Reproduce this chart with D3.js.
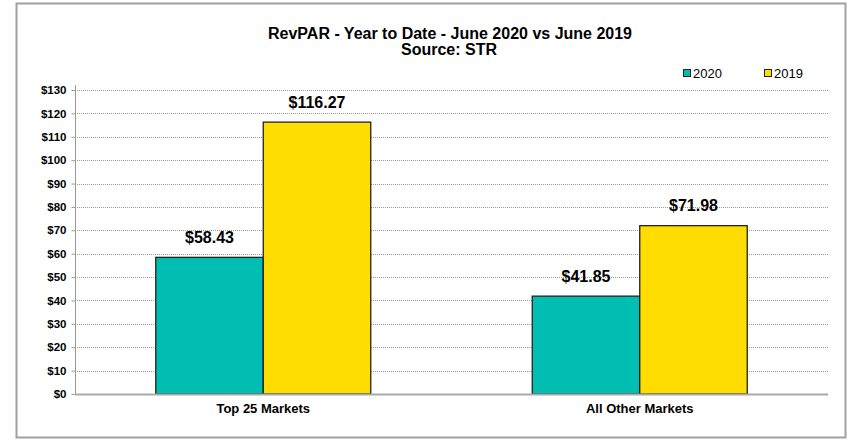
<!DOCTYPE html>
<html>
<head>
<meta charset="utf-8">
<script src="https://cdn.jsdelivr.net/npm/d3@7"></script>
<style>
  body { margin: 0; background: #fff; }
  svg { font-family: Arial, "Liberation Sans", sans-serif; }
</style>
</head>
<body>
<div id="chart"></div>
<script>
const markets = ['Top 25 Markets', 'All Other Markets'];
const years = ['2020', '2019'];
const revpar2020 = [58.43, 41.85];
const revpar2019 = [116.27, 71.98];
const yTicks = [0, 10, 20, 30, 40, 50, 60, 70, 80, 90, 100, 110, 120, 130];
const colors = ['#00BFB2', '#FFDD00'];

var width = 854, height = 440;
var plot = {left: 75, right: 828, top: 90, bottom: 394};

var svg = d3.select('#chart').append('svg')
  .attr('width', width)
  .attr('height', height);

// outer frame
svg.append('rect')
  .attr('x', 16.5).attr('y', 3.5)
  .attr('width', 829).attr('height', 434)
  .attr('fill', '#fff')
  .attr('stroke', '#a0a0a0')
  .attr('stroke-width', 2);

var x = d3.scaleBand()
  .domain(markets)
  .range([plot.left, plot.right])
  .paddingInner(0.429)
  .paddingOuter(0.2145);

var x1 = d3.scaleBand()
  .domain(years)
  .range([0, x.bandwidth()]);

var y = d3.scaleLinear()
  .domain([0, 130])
  .range([plot.bottom, plot.top]);

// gridlines
svg.append('g')
  .selectAll('line')
  .data(yTicks.filter(d => d > 0))
  .enter().append('line')
    .attr('x1', plot.left).attr('x2', plot.right)
    .attr('y1', d => Math.round(y(d)) + 0.5)
    .attr('y2', d => Math.round(y(d)) + 0.5)
    .attr('stroke', '#9a9a9a')
    .attr('stroke-dasharray', '1,1');

// y axis
var yAxis = svg.append('g')
  .attr('transform', 'translate(' + (plot.left + 0.5) + ',0)')
  .call(d3.axisLeft(y).tickValues(yTicks).tickSize(4).tickPadding(5).tickFormat(d => '$' + d));
yAxis.select('.domain').attr('stroke', '#999').attr('d', 'M0,' + (plot.top - 5) + 'V' + plot.bottom);
yAxis.selectAll('.tick line').attr('stroke', '#999');
yAxis.selectAll('.tick text')
  .attr('fill', '#000')
  .style('font-size', '11.5px')
  .style('font-weight', 'bold')
  .style('font-family', 'Arial, "Liberation Sans", sans-serif');

// bars
var data = [];
markets.forEach((m, i) => {
  data.push({market: m, year: '2020', value: revpar2020[i], color: colors[0]});
  data.push({market: m, year: '2019', value: revpar2019[i], color: colors[1]});
});

svg.append('g')
  .selectAll('rect')
  .data(data)
  .enter().append('rect')
    .attr('x', d => x(d.market) + x1(d.year))
    .attr('y', d => y(d.value))
    .attr('width', x1.bandwidth())
    .attr('height', d => plot.bottom - y(d.value))
    .attr('fill', d => d.color)
    .attr('stroke', '#222')
    .attr('stroke-width', 1.3);

// x axis baseline
svg.append('line')
  .attr('x1', plot.left).attr('x2', plot.right)
  .attr('y1', plot.bottom + 0.5).attr('y2', plot.bottom + 0.5)
  .attr('stroke', '#aaa')
  .attr('stroke-width', 2);

// value labels
svg.append('g')
  .selectAll('text')
  .data(data)
  .enter().append('text')
    .attr('x', d => x(d.market) + x1(d.year) + x1.bandwidth() / 2)
    .attr('y', d => y(d.value) - 14.5)
    .attr('text-anchor', 'middle')
    .style('font-size', '16px')
    .style('font-weight', 'bold')
    .text(d => '$' + d.value.toFixed(2));

// category labels
svg.append('g')
  .selectAll('text')
  .data(markets)
  .enter().append('text')
    .attr('x', d => x(d) + x.bandwidth() / 2)
    .attr('y', 413)
    .attr('text-anchor', 'middle')
    .style('font-size', '13px')
    .style('font-weight', 'bold')
    .text(d => d);

// title
svg.append('text')
  .attr('x', 450).attr('y', 39)
  .attr('text-anchor', 'middle')
  .style('font-size', '16px')
  .style('font-weight', 'bold')
  .text('RevPAR - Year to Date - June 2020 vs June 2019');
svg.append('text')
  .attr('x', 449).attr('y', 55)
  .attr('text-anchor', 'middle')
  .style('font-size', '16px')
  .style('font-weight', 'bold')
  .text('Source: STR');

// legend
var legendX = [683, 764];
var legend = svg.append('g')
  .selectAll('g')
  .data(years)
  .enter().append('g')
    .attr('transform', (d, i) => 'translate(' + legendX[i] + ',69)');
legend.append('rect')
  .attr('x', 0.5).attr('y', 0.5)
  .attr('width', 7).attr('height', 7)
  .attr('fill', (d, i) => colors[i])
  .attr('stroke', '#222');
legend.append('text')
  .attr('x', 10).attr('y', 9)
  .style('font-size', '13px')
  .text(d => d);
</script>
</body>
</html>
